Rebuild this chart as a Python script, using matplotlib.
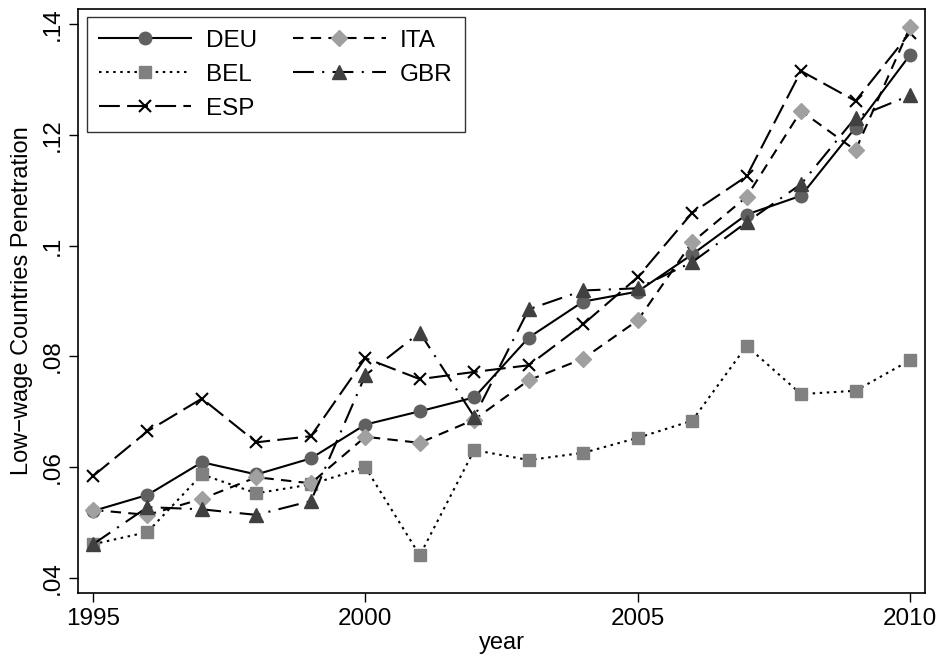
import matplotlib.pyplot as plt
import numpy as np

plt.rcParams["font.family"] = ["Liberation Sans", "DejaVu Sans"]

# データ
years = np.arange(1995, 2011)
deu = [0.0521, 0.0550, 0.0609, 0.0587, 0.0616, 0.0677, 0.0701, 0.0726,
       0.0834, 0.0899, 0.0917, 0.0984, 0.1056, 0.1090, 0.1213, 0.1344]
bel = [0.0461, 0.0483, 0.0587, 0.0553, 0.0569, 0.0600, 0.0441, 0.0631,
       0.0613, 0.0626, 0.0653, 0.0684, 0.0819, 0.0732, 0.0738, 0.0793]
ita = [0.0523, 0.0514, 0.0543, 0.0582, 0.0571, 0.0655, 0.0644, 0.0686,
       0.0757, 0.0796, 0.0865, 0.1006, 0.1088, 0.1243, 0.1172, 0.1394]
esp = [0.0584, 0.0665, 0.0724, 0.0645, 0.0656, 0.0797, 0.0759, 0.0772,
       0.0784, 0.0858, 0.0943, 0.1059, 0.1125, 0.1315, 0.1261, 0.1384]
gbr = [0.0461, 0.0528, 0.0524, 0.0514, 0.0539, 0.0766, 0.0843, 0.0691,
       0.0885, 0.0919, 0.0923, 0.0970, 0.1042, 0.1111, 0.1231, 0.1271]

yticks = [0.04, 0.06, 0.08, 0.10, 0.12, 0.14]
ytick_labels = [".04", ".06", ".08", ".1", ".12", ".14"]
xticks = [1995, 2000, 2005, 2010]

fig = plt.figure(figsize=(9.38, 6.56), dpi=100)
ax = fig.add_axes([0.0832, 0.096, 0.9029, 0.8903])

lw = 1.5
ax.plot(years, deu, color="black", lw=lw, ls="-", marker="o", ms=9,
        mfc="#606060", mec="#606060", label="DEU")
ax.plot(years, bel, color="black", lw=lw, ls=(0, (1.2, 2.2)), marker="s", ms=8.5,
        mfc="#808080", mec="#808080", label="BEL")
ax.plot(years, esp, color="black", lw=lw, ls=(0, (10, 3.5)), marker="x", ms=8,
        mew=1.5, mec="black", label="ESP")
ax.plot(years, ita, color="black", lw=lw, ls=(0, (5, 3.5)), marker="D", ms=8,
        mfc="#a0a0a0", mec="#a0a0a0", label="ITA")
ax.plot(years, gbr, color="black", lw=lw, ls=(0, (10, 4, 1, 4)), marker="^", ms=9.5,
        mfc="#404040", mec="#404040", label="GBR")

ax.set_xlim(1994.725, 2010.275)
ax.set_ylim(0.0373, 0.1427)
ax.set_xticks(xticks)
ax.set_xticklabels([str(x) for x in xticks])
ax.set_yticks(yticks)
ax.set_yticklabels(ytick_labels, rotation=90, va="center")
ax.tick_params(direction="out", length=6.5, width=1, labelsize=17.5, pad=4)

for s in ax.spines.values():
    s.set_linewidth(1.2)

ax.set_xlabel("year", fontsize=17, labelpad=2)
ax.set_ylabel("Low\u2212wage Countries Penetration", fontsize=17, labelpad=6)

leg = ax.legend(loc="upper left", ncol=2, numpoints=1, fontsize=17.5,
                handlelength=3.8, handletextpad=0.6, columnspacing=1.5,
                labelspacing=0.5, borderpad=0.5, borderaxespad=0.35,
                fancybox=False, framealpha=1)
leg.get_frame().set_edgecolor("#333333")
leg.get_frame().set_linewidth(1.0)

fig.savefig("out.png", dpi=100)
